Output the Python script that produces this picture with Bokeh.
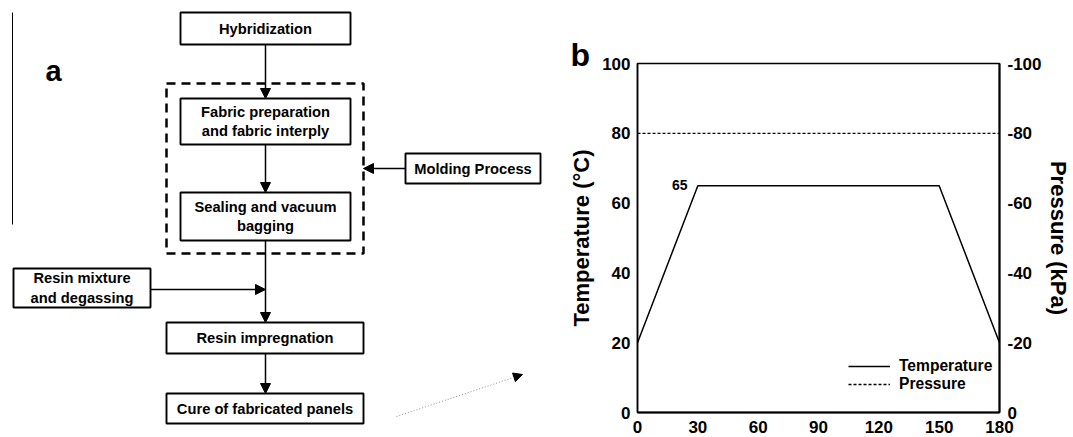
from bokeh.plotting import figure
from bokeh.models import (Range1d, LinearAxis, FixedTicker, Arrow, NormalHead,
                          ColumnDataSource, Legend, LegendItem)
from bokeh.layouts import row
from bokeh.embed import file_html
from bokeh.resources import INLINE
from bokeh.core.properties import value

FONT = "Liberation Sans"

# ---------------- data: panel b (cure cycle) ----------------
time_min = [0, 30, 150, 180]
temperature_c = [20, 65, 65, 20]
pressure_time = [0, 180]
pressure_kpa = [-80, -80]
x_ticks = [0, 30, 60, 90, 120, 150, 180]
temp_ticks = [0, 20, 40, 60, 80, 100]
pressure_ticks = [0, -20, -40, -60, -80, -100]

# ---------------- content: panel a (flowchart) ----------------
step_names = ["Hybridization",
              "Fabric preparation\nand fabric interply",
              "Sealing and vacuum\nbagging",
              "Molding Process",
              "Resin mixture\nand degassing",
              "Resin impregnation",
              "Cure of fabricated panels"]

# layout of the flowchart (page pixels)
box_left = [180, 180, 180, 405, 13, 166, 166]
box_right = [350, 350, 350, 540, 150, 363, 363]
box_top = [12, 98, 192, 153, 268, 322, 393]
box_bottom = [44, 144, 240, 183, 307, 353, 423]

arrow_x0 = [265, 265, 265, 150, 405, 265]
arrow_y0 = [44, 144, 240, 289, 168, 353]
arrow_x1 = [265, 265, 265, 265, 363, 265]
arrow_y1 = [98, 192, 322, 289, 168, 393]

# ---------------- panel a ----------------
pa = figure(width=560, height=437, x_range=Range1d(0, 560), y_range=Range1d(437, 0),
            x_axis_type=None, y_axis_type=None, output_backend="svg",
            toolbar_location=None, min_border=0)
pa.frame_align = False
pa.grid.visible = False
pa.outline_line_color = None

# stray vertical rule on the left
pa.segment(x0=[12], y0=[12], x1=[12], y1=[224], line_color="black", line_width=1)

# dashed grouping box
pa.quad(left=[166], right=[363], top=[83], bottom=[253], fill_color=None,
        line_color="black", line_width=2.5, line_dash="9 6")

# arrows
asrc = ColumnDataSource(dict(x0=arrow_x0, y0=arrow_y0, x1=arrow_x1, y1=arrow_y1))
pa.add_layout(Arrow(end=NormalHead(size=10, fill_color="black", line_color="black", line_width=1),
                    x_start="x0", y_start="y0", x_end="x1", y_end="y1", source=asrc,
                    line_color="black", line_width=1.5))
pa.add_layout(Arrow(end=NormalHead(size=9, fill_color="black", line_color="black", line_width=1),
                    x_start=396, y_start=416, x_end=522, y_end=374,
                    line_color="#8a8a8a", line_width=1, line_dash="1 2"))

# boxes
bsrc = ColumnDataSource(dict(l=box_left, r=box_right, t=box_top, b=box_bottom,
                             cx=[(a + b) / 2 for a, b in zip(box_left, box_right)],
                             cy=[(a + b) / 2 for a, b in zip(box_top, box_bottom)],
                             name=step_names))
pa.quad(left="l", right="r", top="t", bottom="b", source=bsrc,
        fill_color="white", line_color="black", line_width=1.9)
pa.text(x="cx", y="cy", text="name", source=bsrc, text_font=value(FONT),
        text_font_style="bold", text_font_size="14.7px", text_align="center",
        text_baseline="middle", text_line_height=1.22, text_color="black")

pa.text(x=[53], y=[70], text=["a"], text_font=value(FONT), text_font_style="bold",
        text_font_size="29px", text_align="center", text_baseline="alphabetic")

# ---------------- panel b ----------------
pb = figure(width=513, height=437, x_range=Range1d(0, 180), y_range=Range1d(0, 100),
            title="b", output_backend="svg", toolbar_location=None,
            min_border_left=77, min_border_right=72, min_border_top=63, min_border_bottom=25)
pb.frame_align = False
pb.grid.visible = False
pb.outline_line_color = "black"
pb.outline_line_width = 1.5

pb.title.align = "left"
pb.title.offset = -67
pb.title.standoff = -18
pb.title.text_font = FONT
pb.title.text_font_style = "bold"
pb.title.text_font_size = "32px"
pb.title.text_color = "black"

pb.extra_y_ranges = {"pressure": Range1d(0, -100)}
pb.add_layout(LinearAxis(y_range_name="pressure", axis_label="Pressure (kPa)"), "right")

pb.xaxis.ticker = FixedTicker(ticks=x_ticks)
pb.yaxis[0].ticker = FixedTicker(ticks=temp_ticks)
pb.yaxis[1].ticker = FixedTicker(ticks=pressure_ticks)
pb.yaxis[1].major_label_overrides = {t: str(t) for t in pressure_ticks}
pb.yaxis[0].axis_label = "Temperature (°C)"

for ax in pb.axis:
    ax.major_tick_out = 0
    ax.major_tick_in = 0
    ax.minor_tick_out = 0
    ax.minor_tick_in = 0
    ax.axis_line_color = "black"
    ax.major_label_text_font = FONT
    ax.major_label_text_font_style = "bold"
    ax.major_label_text_font_size = "17px"
    ax.major_label_text_color = "black"
    ax.axis_label_text_font = FONT
    ax.axis_label_text_font_style = "bold"
    ax.axis_label_text_font_size = "22px"
    ax.axis_label_text_color = "black"
pb.xaxis.axis_line_width = 2
pb.xaxis.major_label_standoff = 8
pb.yaxis[0].axis_line_width = 1.5
pb.yaxis[0].major_label_standoff = 7
pb.yaxis[0].axis_label_standoff = 5
pb.yaxis[1].axis_line_width = 2
pb.yaxis[1].major_label_standoff = 8
pb.yaxis[1].axis_label_standoff = 1

r_t = pb.line(time_min, temperature_c, line_color="black", line_width=1.5)
r_p = pb.line(pressure_time, pressure_kpa, y_range_name="pressure", line_color="black",
              line_width=1.3, line_dash="3 2")

pb.text(x=[time_min[1]], y=[temperature_c[1]], text=[str(temperature_c[1])],
        x_offset=-18, y_offset=-1, text_font=value(FONT), text_font_style="bold",
        text_font_size="14px", text_align="center", text_baseline="middle")

legend = Legend(items=[LegendItem(label="Temperature", renderers=[r_t]),
                       LegendItem(label="Pressure", renderers=[r_p])],
                location=(211, 19), border_line_color=None, background_fill_alpha=0,
                label_text_font=FONT, label_text_font_style="bold",
                label_text_font_size="15.6px", label_text_color="black",
                glyph_width=42, glyph_height=18,
                label_standoff=9, spacing=0, padding=0, margin=0,
                label_height=18)
pb.add_layout(legend, "center")

layout = row(pa, pb)
open("out.html", "w").write(file_html(layout, INLINE))
